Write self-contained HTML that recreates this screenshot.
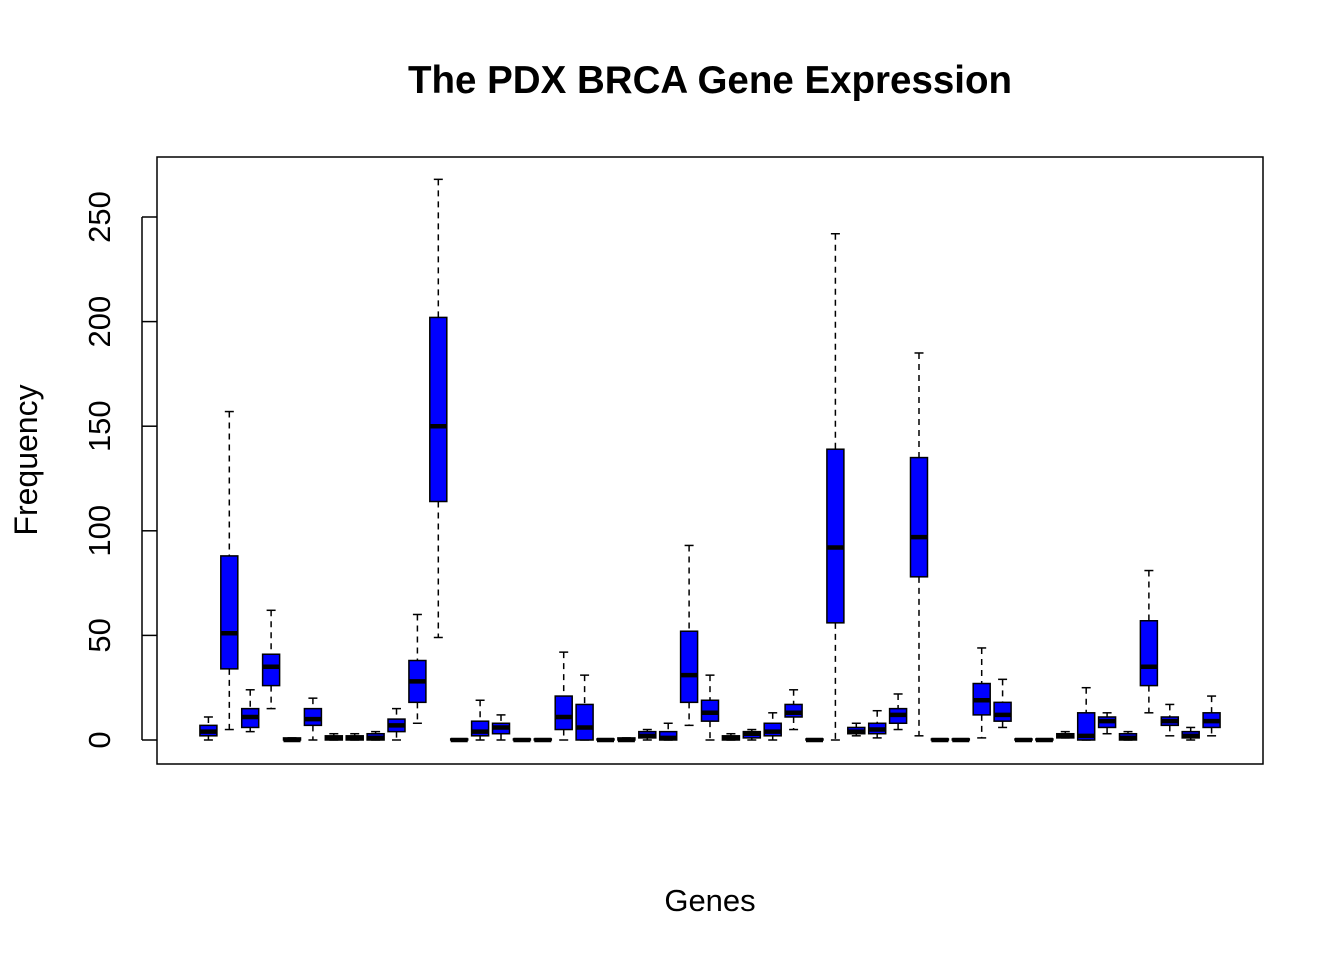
<!DOCTYPE html>
<html><head><meta charset="utf-8"><style>
html,body{margin:0;padding:0;background:#fff;}
svg{display:block;font-family:"Liberation Sans",Arial,sans-serif;}
</style></head><body>
<svg id="chart" width="1344" height="960" viewBox="0 0 1344 960">
<rect width="1344" height="960" fill="#fff"/>
<text x="710" y="93" text-anchor="middle" font-size="38.5" font-weight="bold">The PDX BRCA Gene Expression</text>
<rect x="157" y="157" width="1106" height="607" fill="none" stroke="#000" stroke-width="1.5"/>
<g id="yaxis"></g>
<g id="boxes"></g>
<text transform="translate(37,460) rotate(-90)" text-anchor="middle" font-size="32">Frequency</text>
<text x="710" y="911" text-anchor="middle" font-size="31">Genes</text>
</svg>
<script>
const lowWhisker=[0,5,4,15,0,0,0,0,0,0,8,49,0,0,0,0,0,0,0,0,0,0,0,7,0,0,0,0,5,0,0,2,1,5,2,0,0,1,6,0,0,1,0,3,0,13,2,0,2];
const q1=[2,34,6,26,0,7,0,0,0,4,18,114,0,2,3,0,0,5,0,0,0,1,0,18,9,0,1,2,11,0,56,3,3,8,78,0,0,12,9,0,0,1,0,6,0,26,7,1,6];
const medians=[4,51,11,35,0,10,1,1,1,7,28,150,0,4,6,0,0,11,6,0,0,2,1,31,13,1,3,4,13,0,92,4,5,12,97,0,0,19,12,0,0,2,2,9,1,35,9,2,9];
const q3=[7,88,15,41,1,15,2,2,3,10,38,202,0.5,9,8,0.5,0.5,21,17,0.5,1,4,4,52,19,2,4,8,17,0.5,139,6,8,15,135,0.5,0.5,27,18,0.5,0.5,3,13,11,3,57,11,4,13];
const highWhisker=[11,157,24,62,1,20,3,3,4,15,60,268,0.5,19,12,0.5,0.5,42,31,0.5,1,5,8,93,31,3,5,13,24,0.5,242,8,14,22,185,0.5,0.5,44,29,0.5,0.5,4,25,13,4,81,17,6,21];
const yTicks=[0,50,100,150,200,250];
const NS="http://www.w3.org/2000/svg";
const n=medians.length;
const x0=157,x1=1263;
const span=n*1.08;
function xs(i){return x0+((i+1)-(0.5-0.04*n))*(x1-x0)/span;}
function ys(v){return 740-v*523/250;}
function mk(tag,attrs,parent){const e=document.createElementNS(NS,tag);for(const k in attrs)e.setAttribute(k,attrs[k]);parent.appendChild(e);return e;}
const ya=document.getElementById('yaxis');
mk('line',{x1:142,x2:142,y1:ys(0),y2:ys(250),stroke:'#000','stroke-width':1.5},ya);
yTicks.forEach(t=>{
  const y=ys(t);
  const l=mk('line',{x1:142,x2:157,y1:y,y2:y,stroke:'#000','stroke-width':1.5},ya);
  
  
  const tx=mk('text',{transform:`translate(110,${y}) rotate(-90)`,'text-anchor':'middle','font-size':31},ya);
  
  
  tx.textContent=t;
});
const bg=document.getElementById('boxes');
const bw=17,cw=4.5;
for(let i=0;i<n;i++){
  const cx=xs(i);
  const g=mk('g',{},bg);
  
  
  mk('line',{x1:cx,x2:cx,y1:ys(highWhisker[i]),y2:ys(q3[i]),stroke:'#000','stroke-width':1.5,'stroke-dasharray':'6,5'},g);
  mk('line',{x1:cx,x2:cx,y1:ys(q1[i]),y2:ys(lowWhisker[i]),stroke:'#000','stroke-width':1.5,'stroke-dasharray':'6,5'},g);
  mk('line',{x1:cx-cw,x2:cx+cw,y1:ys(highWhisker[i]),y2:ys(highWhisker[i]),stroke:'#000','stroke-width':1.5},g);
  mk('line',{x1:cx-cw,x2:cx+cw,y1:ys(lowWhisker[i]),y2:ys(lowWhisker[i]),stroke:'#000','stroke-width':1.5},g);
  const top=ys(q3[i]),bot=ys(q1[i]);
  mk('rect',{x:cx-bw/2,y:top,width:bw,height:Math.max(bot-top,0.5),fill:'#0000ff',stroke:'#000','stroke-width':1.5},g);
  mk('line',{x1:cx-bw/2,x2:cx+bw/2,y1:ys(medians[i]),y2:ys(medians[i]),stroke:'#000','stroke-width':4.5},g);
}
</script>
</body></html>
